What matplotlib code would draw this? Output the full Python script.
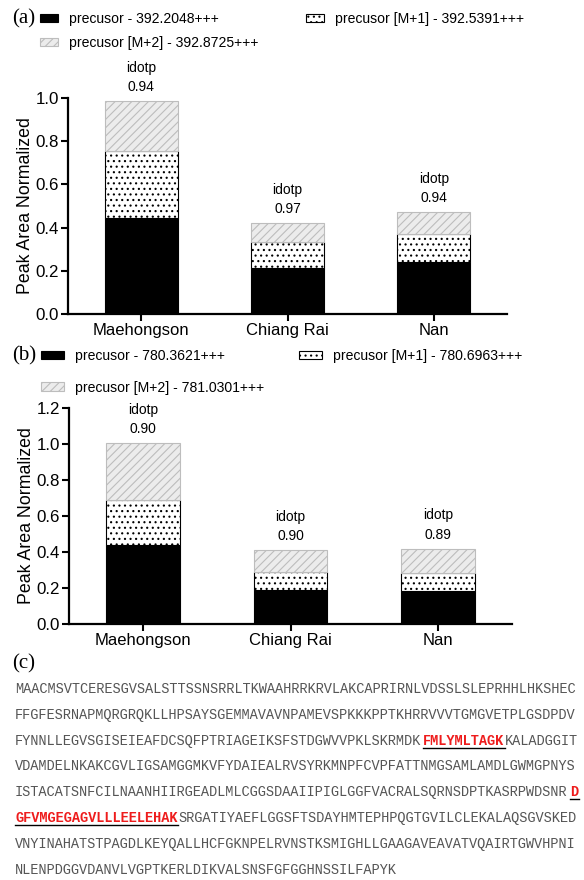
import numpy as np
import matplotlib
matplotlib.use('Agg')
import matplotlib.pyplot as plt
from matplotlib.patches import Patch
from matplotlib.lines import Line2D

plt.rcParams['font.family'] = ['Liberation Sans', 'DejaVu Sans']
plt.rcParams['hatch.linewidth'] = 0.8

sites = ['Maehongson', 'Chiang Rai', 'Nan']

# panel (a)
a_mono = [0.443, 0.211, 0.242]
a_m1 = [0.313, 0.124, 0.127]
a_m2 = [0.230, 0.085, 0.102]
a_idotp = ['0.94', '0.97', '0.94']
a_labels = ['precusor - 392.2048+++', 'precusor [M+1] - 392.5391+++', 'precusor [M+2] - 392.8725+++']

# panel (b)
b_mono = [0.440, 0.190, 0.185]
b_m1 = [0.249, 0.100, 0.099]
b_m2 = [0.314, 0.118, 0.133]
b_idotp = ['0.90', '0.90', '0.89']
b_labels = ['precusor - 780.3621+++', 'precusor [M+1] - 780.6963+++', 'precusor [M+2] - 781.0301+++']

# panel (c) sequence, split in (text, highlighted) pieces per line
seq_lines = [
    [('MAACMSVTCERESGVSALSTTSSNSRRLTKWAAHRRKRVLAKCAPRIRNLVDSSLSLEPRHHLHKSHEC', False)],
    [('FFGFESRNAPMQRGRQKLLHPSAYSGEMMAVAVNPAMEVSPKKKPPTKHRRVVVTGMGVETPLGSDPDV', False)],
    [('FYNNLLEGVSGISEIEAFDCSQFPTRIAGEIKSFSTDGWVVPKLSKRMDK', False), ('FMLYMLTAGK', True), ('KALADGGIT', False)],
    [('VDAMDELNKAKCGVLIGSAMGGMKVFYDAIEALRVSYRKMNPFCVPFATTNMGSAMLAMDLGWMGPNYS', False)],
    [('ISTACATSNFCILNAANHIIRGEADLMLCGGSDAAIIPIGLGGFVACRALSQRNSDPTKASRPWDSNR', False), ('D', True)],
    [('GFVMGEGAGVLLLEELEHAK', True), ('SRGATIYAEFLGGSFTSDAYHMTEPHPQGTGVILCLEKALAQSGVSKED', False)],
    [('VNYINAHATSTPAGDLKEYQALLHCFGKNPELRVNSTKSMIGHLLGAAGAVEAVATVQAIRTGWVHPNI', False)],
    [('NLENPDGGVDANVLVGPTKERLDIKVALSNSFGFGGHNSSILFAPYK', False)],
]

W, H = 584, 880
fig = plt.figure(figsize=(W / 100, H / 100), dpi=100)

m2_style = dict(facecolor='#ececec', edgecolor='#bdbdbd', hatch='////', linewidth=0.8)
m1_style = dict(facecolor='white', edgecolor='black', hatch='...', linewidth=0.8)
mono_style = dict(facecolor='black', edgecolor='black', linewidth=0.8)


def panel(rect, mono, m1, m2, idotp, ymax, yticks, labels, leg_anchor, colsp, labsp, hlen, tag, tag_xy):
    ax = fig.add_axes(rect)
    x = np.arange(len(sites))
    mono = np.array(mono)
    m1 = np.array(m1)
    m2 = np.array(m2)
    ax.bar(x, mono, 0.5, **mono_style)
    ax.bar(x, m1, 0.5, bottom=mono, **m1_style)
    ax.bar(x, m2, 0.5, bottom=mono + m1, **m2_style)
    top = mono + m1 + m2
    for xi, t, v in zip(x, top, idotp):
        ax.annotate('idotp', (xi, t), xytext=(0, 19), textcoords='offset points',
                    ha='center', va='bottom', fontsize=10, annotation_clip=False)
        ax.annotate(v, (xi, t), xytext=(0, 5), textcoords='offset points',
                    ha='center', va='bottom', fontsize=10, annotation_clip=False)
    ax.set_xlim(-0.5, 2.5)
    ax.set_ylim(0, ymax)
    ax.set_yticks(yticks)
    ax.set_yticklabels([f'{t:.1f}' for t in yticks])
    ax.set_xticks(x)
    ax.set_xticklabels(sites)
    ax.tick_params(labelsize=12.2, width=1.5, length=5, pad=1.5)
    ax.tick_params(axis='x', labelsize=12)
    for s in ['top', 'right']:
        ax.spines[s].set_visible(False)
    for s in ['left', 'bottom']:
        ax.spines[s].set_linewidth(1.6)
    ax.set_ylabel('Peak Area Normalized', fontsize=12.8)
    ax.yaxis.set_label_coords(-34 / (rect[2] * W), 0.5)
    handles = [Patch(**mono_style), Patch(**m2_style), Patch(**m1_style)]
    ax.legend(handles, [labels[0], labels[2], labels[1]], ncol=2, frameon=False,
              fontsize=10.1, loc='upper left', bbox_to_anchor=leg_anchor,
              bbox_transform=fig.transFigure, columnspacing=colsp, labelspacing=labsp,
              handlelength=hlen, handleheight=0.55, handletextpad=0.8, borderpad=0, borderaxespad=0)
    fig.text(tag_xy[0] / W, 1 - tag_xy[1] / H, tag, fontsize=15, family='Liberation Serif',
             ha='left', va='center')
    return ax


panel([68 / W, 1 - 314 / H, 439 / W, 216 / H], a_mono, a_m1, a_m2, a_idotp, 1.0,
      [0.0, 0.2, 0.4, 0.6, 0.8, 1.0], a_labels, (40 / W, 1 - 12 / H), 3.35, 0.7, 1.3, '(a)', (12, 19))
panel([69 / W, 1 - 624 / H, 443 / W, 216.5 / H], b_mono, b_m1, b_m2, b_idotp, 1.2,
      [0.0, 0.2, 0.4, 0.6, 0.8, 1.0, 1.2], b_labels, (41 / W, 1 - 349 / H), 2.45, 1.25, 1.65, '(b)', (12, 356))

# panel (c)
fig.text(12 / W, 1 - 664 / H, '(c)', fontsize=15, family='Liberation Serif', ha='left', va='center')
fs = 9.8
cw = fs / 72 * 100 * 0.6  # monospace advance in px
x0 = 15
for i, line in enumerate(seq_lines):
    y = 689 + i * 25.8
    pos = x0
    for txt, hit in line:
        if hit:
            fig.text(pos / W, 1 - y / H, txt, family='Liberation Mono', fontsize=fs,
                     color='#ee1c1c', weight='bold', ha='left', va='center')
            fig.add_artist(Line2D([pos / W, (pos + cw * len(txt)) / W],
                                  [1 - (y + 7) / H, 1 - (y + 7) / H], color='black', lw=1.0))
        else:
            fig.text(pos / W, 1 - y / H, txt, family='Liberation Mono', fontsize=fs,
                     color='#555555', ha='left', va='center')
        pos += cw * len(txt)

fig.savefig('out.png', dpi=100)
